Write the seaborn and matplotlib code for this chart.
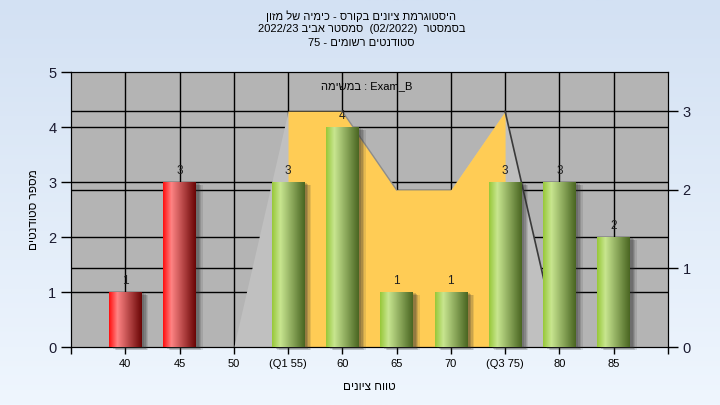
import re
import numpy as np
import pandas as pd
import matplotlib
matplotlib.use("Agg")
import matplotlib.pyplot as plt
import matplotlib.transforms as mtrans
from matplotlib.colors import LinearSegmentedColormap
from matplotlib.patches import Rectangle
import seaborn as sns

# --- data ---
grades = ['40', '45', '50', '(Q1 55)', '60', '65', '70', '(Q3 75)', '80', '85']
students = [1, 3, 0, 3, 4, 1, 1, 3, 3, 2]
status = ['fail', 'fail', 'pass', 'pass', 'pass', 'pass', 'pass', 'pass', 'pass', 'pass']

# area series on the right axis
curve_grades = ['50', '(Q1 55)', '60', '65', '70', '(Q3 75)', '80']
curve_values = [0, 3, 3, 2, 2, 3, 0]
iqr_grades = ['(Q1 55)', '60', '65', '70', '(Q3 75)']
iqr_values = [3, 3, 2, 2, 3]

title_lines = ['היסטוגרמת ציונים בקורס - כימיה של מזון',
               'בסמסטר  (02/2022)  סמסטר אביב 2022/23',
               'סטודנטים רשומים - 75']
task_label = 'במשימה : Exam_B'
ylabel = 'מספר סטודנטים'
xlabel = 'טווח ציונים'


def visual(s, base='rtl'):
    # very small bidi: matplotlib draws left to right only
    tokens = re.findall(r'[\u0590-\u05FF]+|[^\u0590-\u05FF\s]+|\s+', s)
    if base == 'rtl':
        return ''.join(t[::-1] if re.match(r'[\u0590-\u05FF]', t) else t
                       for t in reversed(tokens))
    out = re.sub(r'[\u0590-\u05FF][\u0590-\u05FF\s]*[\u0590-\u05FF]|[\u0590-\u05FF]',
                 lambda m: m.group(0)[::-1], s)
    return out


plt.rcParams['font.family'] = ['Liberation Sans', 'DejaVu Sans']

df = pd.DataFrame({'grade': grades, 'students': students, 'status': status})
pos = {g: i for i, g in enumerate(grades)}
cx = [pos[g] for g in curve_grades]
ix = [pos[g] for g in iqr_grades]

fig = plt.figure(figsize=(7.2, 4.05), dpi=100)

# figure background gradient (darker blue at the top)
bg = fig.add_axes([0, 0, 1, 1], zorder=-10)
bg.imshow(np.linspace(0, 1, 256).reshape(-1, 1), aspect='auto', extent=[0, 1, 0, 1],
          cmap=LinearSegmentedColormap.from_list('bg', ['#d3e1f3', '#eff6fe']))
bg.axis('off')

ax = fig.add_axes([0.0986, 0.1432, 0.829, 0.679])
ax2 = ax.twinx()
ax.set_zorder(2)
ax2.set_zorder(1)
ax.patch.set_visible(False)
ax2.patch.set_visible(True)
ax2.patch.set_facecolor('#b4b4b4')

# grid lines sit under the area series
left_tr = mtrans.blended_transform_factory(ax2.transData, ax.transData)
ax2.vlines(range(len(grades)), 0, 3.5, color='black', lw=1, zorder=0.5)
ax2.hlines([1, 2, 3], -1, len(grades), color='black', lw=1, zorder=0.5)
ax2.hlines([1, 2, 3, 4], -1, len(grades), color='black', lw=1, zorder=0.5,
           transform=left_tr)

ax2.fill_between(cx, curve_values, color='#c0c0c0', lw=0, zorder=1)
ax2.fill_between(ix, iqr_values, color='#ffcc55', lw=0, zorder=1.1)
ax2.plot(cx[5:7], curve_values[5:7], color='#3a3a3a', lw=1.2, zorder=1.2)
ax2.plot(ix[1:3], iqr_values[1:3], color='#8c8c8c', lw=1.0, zorder=1.2)

# bars
sns.barplot(data=df, x='grade', y='students', hue='status', dodge=False,
            palette={'fail': '#ff2020', 'pass': '#a8d048'}, width=0.6,
            legend=False, ax=ax, zorder=3)

cmaps = {
    'fail': LinearSegmentedColormap.from_list('r', [(0, '#ff1010'), (0.25, '#ff8484'), (1, '#6a0505')]),
    'pass': LinearSegmentedColormap.from_list('g', [(0, '#98c83a'), (0.25, '#c8e690'), (1, '#4a6622')]),
}
for p in list(ax.patches):
    h = p.get_height()
    if not h or h <= 0:
        continue
    x0, w = p.get_x(), p.get_width()
    i = int(round(x0 + w / 2))
    for k, a in [(5, 0.12), (4, 0.15), (3, 0.2), (2, 0.2)]:
        tr = ax.transData + mtrans.ScaledTranslation(k / 72, -k / 144, fig.dpi_scale_trans)
        ax.add_patch(Rectangle((x0, 0), w, h, facecolor='#303030', alpha=a, lw=0,
                               transform=tr, zorder=2.8, clip_on=False))
    im = ax.imshow(np.linspace(0, 1, 64).reshape(1, -1), cmap=cmaps[status[i]],
                   aspect='auto', extent=[x0, x0 + w, 0, h], zorder=3.5)
    im.set_clip_path(p)

for i, v in enumerate(students):
    if v > 0:
        ax.annotate(str(v), (i, v), xytext=(0, 3.5), textcoords='offset points',
                    ha='center', va='bottom', fontsize=8.5, color='#202020', zorder=5)

ax.set_xlim(-1, len(grades))
ax.set_ylim(0, 5)
ax2.set_ylim(0, 3.5)
ax.set_yticks(range(6))
ax2.set_yticks([0, 1, 2, 3])
ax.set_xticks(range(len(grades)))
ax.set_xticklabels(grades)
ax.set_xticks([-1, len(grades)], minor=True)
ax.tick_params(axis='x', which='both', length=5, width=1, labelsize=8, colors='black')
ax.tick_params(axis='y', length=7, width=1, labelsize=10.5, labelcolor='#1a1a30')
ax2.tick_params(axis='y', length=7, width=1, labelsize=10.5, labelcolor='#1a1a30')
for s in ax.spines.values():
    s.set_color('black')
for s in ax2.spines.values():
    s.set_color('black')

ax.set_xlabel(visual(xlabel), fontsize=8.5)
ax.set_ylabel(visual(ylabel), fontsize=8.5)
ax.xaxis.set_label_coords(0.5, -0.124)
ax.yaxis.set_label_coords(-0.052, 0.5)

ax.text(0.496, 0.95, visual(task_label, base='ltr'), transform=ax.transAxes,
        ha='center', va='center', fontsize=8, zorder=6)

for k, line in enumerate(title_lines):
    fig.text(0.502, 1 - (16.5 + 13 * k) / 405, visual(line), ha='center', va='center',
             fontsize=8)

fig.savefig('out.png', dpi=100)
